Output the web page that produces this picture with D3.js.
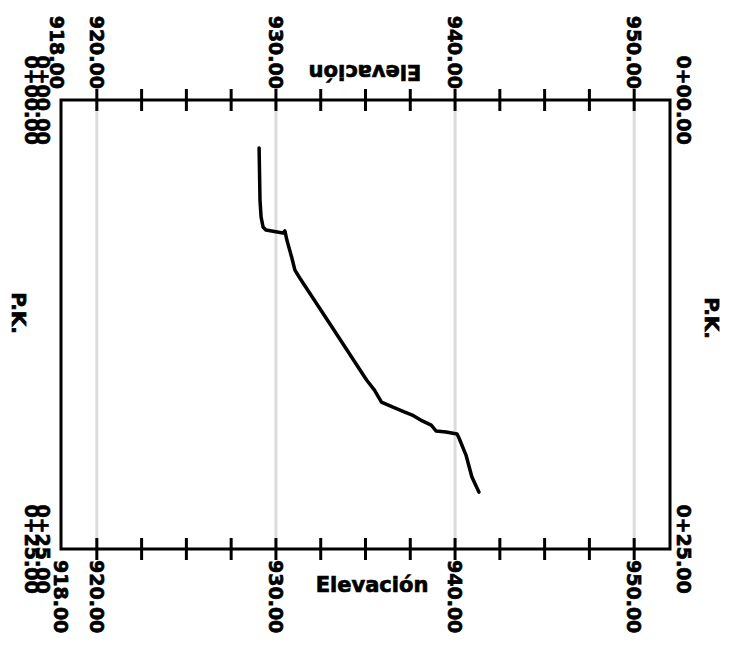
<!DOCTYPE html>
<html>
<head>
<meta charset="utf-8">
<script src="https://cdn.jsdelivr.net/npm/d3@7"></script>
<style>
  html, body { margin: 0; padding: 0; background: #fff; }
  svg text { font-family: "DejaVu Sans", sans-serif; font-weight: bold; fill: #000; stroke: #000; stroke-width: 0.7px; }
</style>
</head>
<body>
<svg id="chart" width="742" height="651"></svg>
<script>
// Longitudinal profile: elevation (horizontal) against chainage P.K. (vertical)
const stations   = [2.67, 5.57, 6.51, 7.07, 7.24, 7.41, 7.29, 7.80, 8.80, 9.47, 9.91, 12.6, 15.59, 16.15, 16.82, 17.09, 17.32, 17.54, 17.87, 18.10, 18.43, 18.49, 18.60, 18.82, 19.77, 20.99, 21.83];
const elevations = [929.06, 929.11, 929.17, 929.28, 929.44, 930.39, 930.50, 930.61, 930.89, 931.06, 931.33, 933.10, 935.06, 935.50, 935.89, 936.50, 937.06, 937.61, 938.17, 938.67, 938.94, 939.50, 940.11, 940.22, 940.61, 940.94, 941.33];

const elevDomain   = [918, 952];
const pkDomain     = [0, 25];
const elevLabels   = [918, 920, 930, 940, 950];
const elevGrid     = [920, 930, 940, 950];
const elevTicks    = [920, 922.5, 925, 927.5, 930, 932.5, 935, 937.5, 940, 942.5, 945, 947.5, 950];
const pkLabels     = [0, 25];

const svg = d3.select("#chart");
const x = d3.scaleLinear().domain(elevDomain).range([61, 670]);
const y = d3.scaleLinear().domain(pkDomain).range([100, 549]);

const fmtElev = d => d.toFixed(2);
const fmtPk = d => "0+" + String(Math.floor(d)).padStart(2, "0") + "." + (d % 1).toFixed(2).slice(2);

// grid
svg.append("g").selectAll("line").data(elevGrid).join("line")
  .attr("x1", d => x(d)).attr("x2", d => x(d))
  .attr("y1", y(0)).attr("y2", y(25))
  .attr("stroke", "#dcdcdc").attr("stroke-width", 3);

// frame
svg.append("rect")
  .attr("x", x(918)).attr("y", y(0))
  .attr("width", x(952) - x(918)).attr("height", y(25) - y(0))
  .attr("fill", "none").attr("stroke", "#000").attr("stroke-width", 3);

// ticks on top and bottom axes
[y(0), y(25)].forEach(yy => {
  svg.append("g").selectAll("line").data(elevTicks).join("line")
    .attr("x1", d => x(d)).attr("x2", d => x(d))
    .attr("y1", yy - 11).attr("y2", yy + 11)
    .attr("stroke", "#000").attr("stroke-width", 3);
});

// elevation labels (rotated)
const fs = 19;
svg.append("g").selectAll("text").data(elevLabels).join("text")
  .attr("transform", d => `translate(${x(d) - (d === 918 ? 4 : 0)},${y(0) - 11}) rotate(90)`)
  .attr("text-anchor", "end").attr("dominant-baseline", "central")
  .attr("font-size", fs).text(fmtElev);
svg.append("g").selectAll("text").data(elevLabels).join("text")
  .attr("transform", d => `translate(${x(d)},${y(25) + 11}) rotate(90)`)
  .attr("text-anchor", "start").attr("dominant-baseline", "central")
  .attr("font-size", fs).text(fmtElev);

// P.K. labels, left side (double-struck) and right side
[32, 43].forEach(px => {
  svg.append("g").selectAll("text").data(pkLabels).join("text")
    .attr("transform", d => `translate(${px},${y(d)}) rotate(90)`)
    .attr("text-anchor", "middle").attr("dominant-baseline", "central")
    .attr("font-size", fs).text(fmtPk);
});
svg.append("g").selectAll("text").data(pkLabels).join("text")
  .attr("transform", d => `translate(684,${y(d)}) rotate(90)`)
  .attr("text-anchor", "middle").attr("dominant-baseline", "central")
  .attr("font-size", fs).text(fmtPk);

// axis titles
svg.append("text").attr("transform", "translate(372,585)")
  .attr("text-anchor", "middle").attr("dominant-baseline", "central")
  .attr("font-size", 21).text("Elevación");
svg.append("text").attr("transform", "translate(365,72) rotate(180)")
  .attr("text-anchor", "middle").attr("dominant-baseline", "central")
  .attr("font-size", 21).text("Elevación");
svg.append("text").attr("transform", "translate(19,313) rotate(90)")
  .attr("text-anchor", "middle").attr("dominant-baseline", "central")
  .attr("font-size", 20).text("P.K.");
svg.append("text").attr("transform", "translate(712,318) rotate(90)")
  .attr("text-anchor", "middle").attr("dominant-baseline", "central")
  .attr("font-size", 20).text("P.K.");

// profile line
const line = d3.line().x((d, i) => x(elevations[i])).y(d => y(d));
svg.append("path").datum(stations)
  .attr("d", line)
  .attr("fill", "none").attr("stroke", "#000").attr("stroke-width", 3.5)
  .attr("stroke-linejoin", "round").attr("stroke-linecap", "round");
</script>
</body>
</html>
